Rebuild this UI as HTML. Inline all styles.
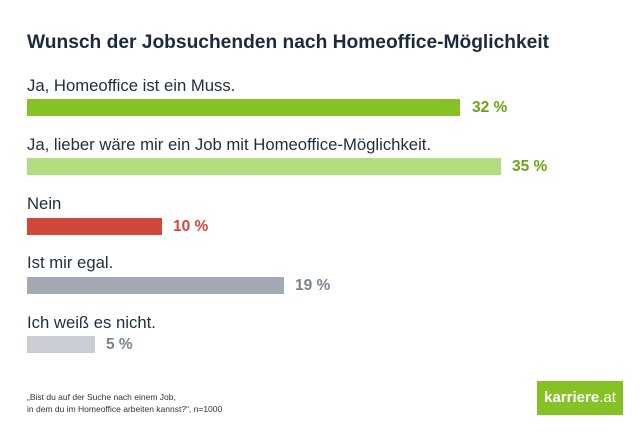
<!DOCTYPE html>
<html><head><meta charset="utf-8"><style>
body{margin:0;width:640px;height:433px;background:#fff;font-family:"Liberation Sans",sans-serif;position:relative;overflow:hidden}
div{position:absolute}
.t{left:27px;top:32px;font-size:19.2px;font-weight:bold;color:#1b2a3d}
.l{left:27px;font-size:16.7px;color:#1f2d3f}
.b{left:27px;height:17px}
.v{font-size:15.5px;font-weight:bold}
</style></head><body>
<div class="t">Wunsch der Jobsuchenden nach Homeoffice-Möglichkeit</div>
<div class="l" style="top:76px">Ja, Homeoffice ist ein Muss.</div>
<div class="b" style="top:99px;width:433px;background:#86c225"></div>
<div class="v" style="left:472px;top:99px;color:#6ba514">32 %</div>
<div class="l" style="top:135px">Ja, lieber wäre mir ein Job mit Homeoffice-Möglichkeit.</div>
<div class="b" style="top:158px;width:474px;background:#b2dc80"></div>
<div class="v" style="left:512px;top:158px;color:#6ba514">35 %</div>
<div class="l" style="top:194px">Nein</div>
<div class="b" style="top:218px;width:135px;background:#d2473b"></div>
<div class="v" style="left:173px;top:218px;color:#d2473b">10 %</div>
<div class="l" style="top:253px">Ist mir egal.</div>
<div class="b" style="top:277px;width:257px;background:#a3a9b4"></div>
<div class="v" style="left:295px;top:277px;color:#7b8290">19 %</div>
<div class="l" style="top:313px">Ich weiß es nicht.</div>
<div class="b" style="top:336px;width:68px;background:#c9cdd4"></div>
<div class="v" style="left:106px;top:336px;color:#7b8290">5 %</div>
<div style="left:27px;top:391px;font-size:8.5px;color:#333;line-height:12px">„Bist du auf der Suche nach einem Job,<br>in dem du im Homeoffice arbeiten kannst?“, n=1000</div>
<div style="left:537px;top:381px;width:86px;height:34px;background:#86c225;color:#fff;font-size:15px;font-weight:bold;line-height:34px;text-align:center">karriere<span style="font-weight:normal">.at</span></div>
</body></html>
